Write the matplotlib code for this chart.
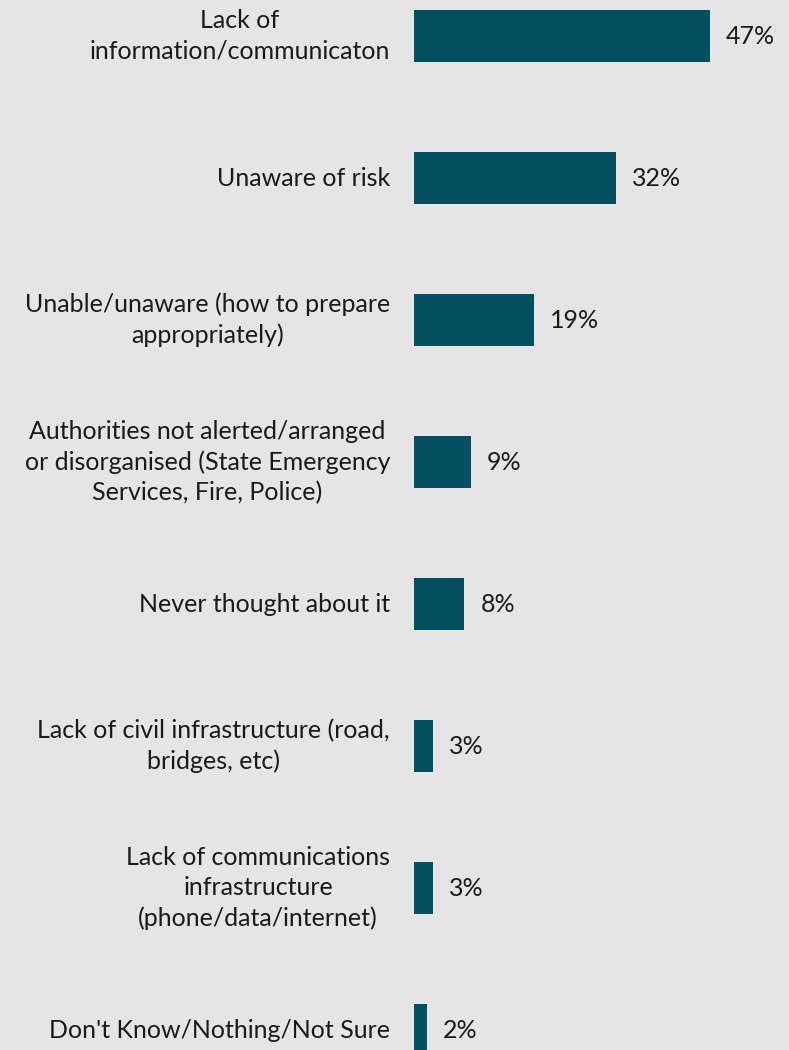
import matplotlib
matplotlib.use("Agg")
import matplotlib.pyplot as plt
from matplotlib.transforms import blended_transform_factory, offset_copy

categories = [
    "Lack of\ninformation/communicaton",
    "Unaware of risk",
    "Unable/unaware (how to prepare\nappropriately)",
    "Authorities not alerted/arranged\nor disorganised (State Emergency\nServices, Fire, Police)",
    "Never thought about it",
    "Lack of civil infrastructure (road,\nbridges, etc)",
    "Lack of communications\ninfrastructure\n(phone/data/internet)",
    "Don't Know/Nothing/Not Sure",
]
values = [47, 32, 19, 9, 8, 3, 3, 2]

BG = "#e5e5e5"
BAR = "#02505f"
TXT = "#1a1a1a"

W, H, DPI = 789, 1050, 100
plt.rcParams["font.family"] = ["Lato", "DejaVu Sans"]

fig = plt.figure(figsize=(W / DPI, H / DPI), dpi=DPI, facecolor=BG)
left_px = 414
ax = fig.add_axes([left_px / W, 0, (W - left_px) / W, 1])
ax.set_facecolor(BG)

px_per_pct = 6.3
spacing_px = 142
first_center_px = 36
ax.set_xlim(0, (W - left_px) / px_per_pct)
ax.set_ylim((H - first_center_px) / spacing_px, -first_center_px / spacing_px)

pos = list(range(len(values)))
ax.barh(pos, values, height=52 / spacing_px, color=BAR)

for s in ax.spines.values():
    s.set_visible(False)
ax.set_xticks([])
ax.set_yticks([])

lab_tr = offset_copy(blended_transform_factory(ax.transAxes, ax.transData),
                     fig=fig, x=-24, y=0, units="dots")
for p, c in zip(pos, categories):
    ax.text(0, p, c, transform=lab_tr, ha="right", va="center",
            multialignment="center", fontsize=18, color=TXT, linespacing=1.37)

for p, v in zip(pos, values):
    ax.annotate(f"{v}%", xy=(v, p), xytext=(16, 0), textcoords="offset pixels",
                ha="left", va="center", fontsize=18, color=TXT)

fig.savefig("out.png", dpi=DPI, facecolor=BG)
